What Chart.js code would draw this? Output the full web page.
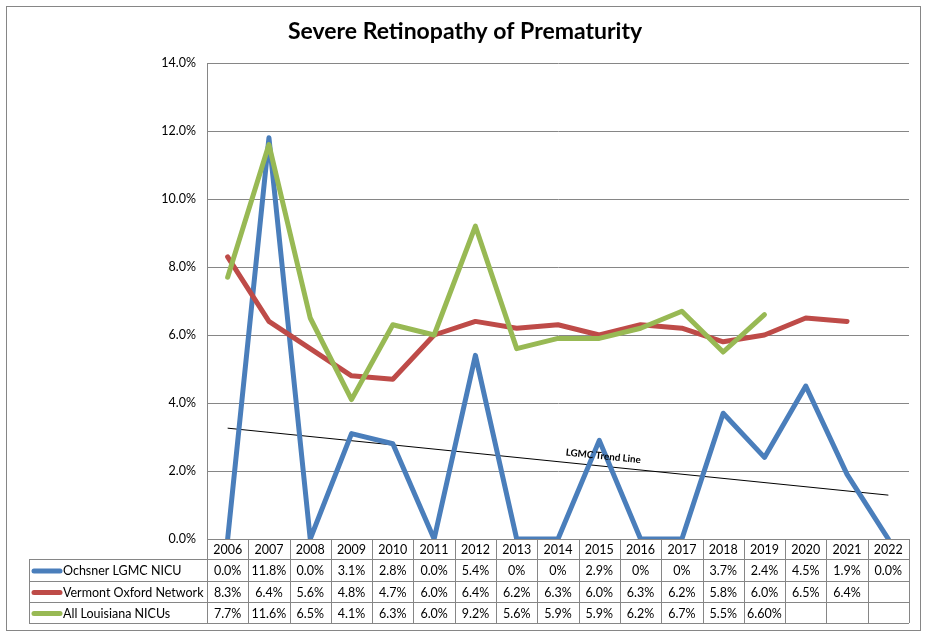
<!DOCTYPE html>
<html>
<head>
<meta charset="utf-8">
<script src="https://cdn.jsdelivr.net/npm/chart.js@4/dist/chart.umd.min.js"></script>
<style>
  html, body { margin: 0; padding: 0; background: #fff; }
  #wrap { width: 931px; height: 634px; position: relative; }
</style>
</head>
<body>
<div id="wrap"><canvas id="c" width="931" height="634"></canvas></div>
<script>
const chartTitle = 'Severe Retinopathy of Prematurity';
const years = ['2006','2007','2008','2009','2010','2011','2012','2013','2014','2015','2016','2017','2018','2019','2020','2021','2022'];
const seriesNames = ['Ochsner LGMC NICU', 'Vermont Oxford Network', 'All Louisiana NICUs'];
const ochsner = [0.0, 11.8, 0.0, 3.1, 2.8, 0.0, 5.4, 0, 0, 2.9, 0, 0, 3.7, 2.4, 4.5, 1.9, 0.0];
const vermont = [8.3, 6.4, 5.6, 4.8, 4.7, 6.0, 6.4, 6.2, 6.3, 6.0, 6.3, 6.2, 5.8, 6.0, 6.5, 6.4, null];
const louisiana = [7.7, 11.6, 6.5, 4.1, 6.3, 6.0, 9.2, 5.6, 5.9, 5.9, 6.2, 6.7, 5.5, 6.6, null, null, null];
const ochsnerLabels = ['0.0%','11.8%','0.0%','3.1%','2.8%','0.0%','5.4%','0%','0%','2.9%','0%','0%','3.7%','2.4%','4.5%','1.9%','0.0%'];
const vermontLabels = ['8.3%','6.4%','5.6%','4.8%','4.7%','6.0%','6.4%','6.2%','6.3%','6.0%','6.3%','6.2%','5.8%','6.0%','6.5%','6.4%',''];
const louisianaLabels = ['7.7%','11.6%','6.5%','4.1%','6.3%','6.0%','9.2%','5.6%','5.9%','5.9%','6.2%','6.7%','5.5%','6.60%','','',''];
const trendLabel = 'LGMC Trend Line';
const trendLine = [3.26, null, null, null, null, null, null, null, null, null, null, null, null, null, null, null, 1.29];
const trendLabelYear = '2015';
const yTicks = [0, 2, 4, 6, 8, 10, 12, 14];

const colors = ['#4a7ebb', '#be4b48', '#98b954'];
const gridColor = '#868686';
const FONT = 'Lato, "Open Sans", sans-serif';

const tablePlugin = {
  id: 'tablePlugin',
  beforeDraw(chart) {
    const ctx = chart.ctx;
    ctx.save();
    ctx.fillStyle = '#fff';
    ctx.fillRect(0, 0, chart.width, chart.height);
    ctx.restore();
  },
  afterDraw(chart) {
    const ctx = chart.ctx;
    const xs = chart.scales.x;
    const area = chart.chartArea;
    const step = xs.getPixelForValue(1) - xs.getPixelForValue(0);
    const left = area.left, right = area.right;
    const rowTop = area.bottom;
    const rows = [rowTop, rowTop + 20, rowTop + 42, rowTop + 63, rowTop + 84];
    const legLeft = 29;

    ctx.save();
    // title
    ctx.fillStyle = '#000';
    ctx.font = 'bold 23px ' + FONT;
    ctx.textAlign = 'center';
    ctx.textBaseline = 'middle';
    ctx.fillText(chartTitle, 465, 32);

    // outer border
    ctx.strokeStyle = gridColor;
    ctx.lineWidth = 1;
    ctx.strokeRect(6.5, 6.5, 914, 624);

    // table lines
    ctx.beginPath();
    ctx.moveTo(left, rows[0] + 0.5); ctx.lineTo(right, rows[0] + 0.5);
    for (let r = 1; r < rows.length; r++) {
      ctx.moveTo(legLeft, rows[r] + 0.5); ctx.lineTo(right, rows[r] + 0.5);
    }
    ctx.moveTo(legLeft + 0.5, rows[1]); ctx.lineTo(legLeft + 0.5, rows[4]);
    for (let i = 0; i <= years.length; i++) {
      const x = Math.round(xs.getPixelForValue(i) - step / 2) + 0.5;
      ctx.moveTo(x, rows[0]); ctx.lineTo(x, rows[4]);
    }
    ctx.stroke();

    // text
    ctx.font = '12.5px ' + FONT;
    ctx.fillStyle = '#000';
    ctx.textAlign = 'center';
    const labelRows = [years, ochsnerLabels, vermontLabels, louisianaLabels];
    labelRows.forEach((lbls, r) => {
      const cy = (rows[r] + rows[r + 1]) / 2 + 1;
      lbls.forEach((t, i) => {
        ctx.fillText(t, xs.getPixelForValue(i), cy);
      });
    });
    // legend keys
    ctx.textAlign = 'left';
    seriesNames.forEach((name, k) => {
      const cy = (rows[k + 1] + rows[k + 2]) / 2 + 1;
      ctx.strokeStyle = colors[k];
      ctx.lineWidth = 5;
      ctx.lineCap = 'round';
      ctx.beginPath();
      ctx.moveTo(34, cy); ctx.lineTo(60, cy);
      ctx.stroke();
      ctx.fillStyle = '#000';
      ctx.fillText(name, 63, cy);
    });
    ctx.restore();
  },
  afterDatasetsDraw(chart) {
    const ctx = chart.ctx;
    const xs = chart.scales.x, ys = chart.scales.y;
    const i0 = 0, i1 = trendLine.length - 1;
    const x0 = xs.getPixelForValue(i0), y0 = ys.getPixelForValue(trendLine[i0]);
    const x1 = xs.getPixelForValue(i1), y1 = ys.getPixelForValue(trendLine[i1]);
    const ang = Math.atan2(y1 - y0, x1 - x0);
    const xi = xs.getPixelForValue(years.indexOf(trendLabelYear)) + 4;
    const yi = y0 + (xi - x0) * (y1 - y0) / (x1 - x0);
    ctx.save();
    ctx.translate(xi, yi - 10);
    ctx.rotate(ang);
    ctx.font = 'bold 9.8px ' + FONT;
    ctx.fillStyle = '#000';
    ctx.textAlign = 'center';
    ctx.textBaseline = 'middle';
    ctx.fillText(trendLabel, 0, 0);
    ctx.restore();
  }
};

const mk = (label, data, color, order) => ({
  label, data, borderColor: color, backgroundColor: color,
  borderWidth: 5, pointRadius: 0, pointHoverRadius: 0, tension: 0,
  borderCapStyle: 'round', borderJoinStyle: 'round', fill: false, order,
  clip: { left: 5, right: 5, top: 5, bottom: 0 }
});

new Chart(document.getElementById('c'), {
  type: 'line',
  data: {
    labels: years,
    datasets: [
      mk(seriesNames[0], ochsner, colors[0], 3),
      mk(seriesNames[1], vermont, colors[1], 2),
      mk(seriesNames[2], louisiana, colors[2], 1),
      { label: trendLabel, data: trendLine, borderColor: '#000', borderWidth: 1,
        pointRadius: 0, spanGaps: true, tension: 0, fill: false, order: 4 }
    ]
  },
  options: {
    responsive: false,
    animation: false,
    devicePixelRatio: 1,
    layout: { padding: { left: 0, right: 22, top: 63, bottom: 95 } },
    plugins: { legend: { display: false }, title: { display: false }, tooltip: { enabled: false } },
    scales: {
      x: { type: 'category', offset: true, display: false, grid: { display: false } },
      y: {
        min: 0, max: 14,
        afterFit(s) { s.width = 207; },
        afterBuildTicks(s) { s.ticks = yTicks.map(v => ({ value: v })); },
        ticks: {
          callback: v => v.toFixed(1) + '%',
          font: { family: FONT, size: 12.5 }, color: '#000', padding: 11
        },
        grid: { color: gridColor, drawTicks: false, lineWidth: 1 },
        border: { display: true, color: gridColor, width: 1 }
      }
    }
  },
  plugins: [tablePlugin]
});
</script>
</body>
</html>
